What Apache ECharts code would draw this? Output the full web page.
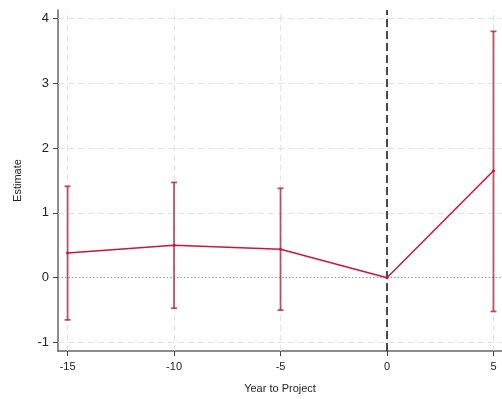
<!DOCTYPE html>
<html><head><meta charset="utf-8">
<script src="https://cdn.jsdelivr.net/npm/echarts@6/dist/echarts.min.js"></script>
<style>html,body{margin:0;padding:0;background:#fff}#c{width:502px;height:399px}</style>
</head><body><div id="c"></div>
<script>
var years = [-15, -10, -5, 0, 5];
var estimates = [0.38, 0.50, 0.44, 0, 1.65];
var ciLower = [-0.65, -0.47, -0.50, null, -0.52];
var ciUpper = [1.41, 1.47, 1.38, null, 3.80];
var xTicks = [-15, -10, -5, 0, 5];
var yTicks = [-1, 0, 1, 2, 3, 4];
var eventYear = 0;

var lineData = years.map(function(x, i){ return [x, estimates[i]]; });
var ciData = [];
years.forEach(function(x, i){ if (ciLower[i] !== null) ciData.push([x, ciLower[i], ciUpper[i]]); });

var font = 'Liberation Sans, Arial, Helvetica, sans-serif';
var chart = echarts.init(document.getElementById('c'), null, {renderer:'canvas'});
chart.setOption({
  animation: false,
  grid: {left: 58, top: 10, right: 0, bottom: 43, containLabel: false},
  xAxis: {
    type: 'value', min: -15.45, max: 5.4,
    name: 'Year to Project', nameLocation: 'middle', nameGap: 32,
    nameTextStyle: {fontFamily: font, fontSize: 11, color: '#222'},
    axisLine: {show: true, onZero: false, lineStyle: {color: '#666', width: 1.5}},
    axisTick: {show: true, customValues: xTicks, length: 5, lineStyle: {color: '#444'}},
    axisLabel: {customValues: xTicks, fontFamily: font, fontSize: 11, color: '#222', margin: 10},
    splitLine: {show: false}
  },
  yAxis: {
    type: 'value', min: -1.13, max: 4.13,
    name: 'Estimate', nameLocation: 'middle', nameGap: 35,
    nameTextStyle: {fontFamily: font, fontSize: 11, color: '#222'},
    axisLine: {show: true, onZero: false, lineStyle: {color: '#666', width: 1.5}},
    axisTick: {show: true, customValues: yTicks, length: 5, lineStyle: {color: '#444'}},
    axisLabel: {customValues: yTicks, fontFamily: font, fontSize: 13, color: '#222', margin: 9},
    splitLine: {show: false}
  },
  series: [
    {
      type: 'line', data: [], silent: true,
      markLine: {
        silent: true, symbol: 'none', label: {show: false},
        lineStyle: {color: '#e3e3e3', type: [6, 4], width: 1},
        data: xTicks.map(function(v){ return {xAxis: v}; })
          .concat(yTicks.filter(function(v){ return v !== 0; }).map(function(v){ return {yAxis: v}; }))
      }
    },
    {
      type: 'line', data: [], silent: true,
      markLine: {
        silent: true, symbol: 'none', label: {show: false},
        data: [
          {yAxis: 0, lineStyle: {color: '#999', type: [1.5, 2], width: 1.2}},
          {xAxis: eventYear, lineStyle: {color: '#111', type: [8, 4], width: 1.5}}
        ]
      }
    },
    {
      type: 'custom', data: ciData, encode: {x: 0, y: [1, 2]}, z: 5,
      renderItem: function(params, api){
        var x = api.value(0);
        var lo = api.coord([x, api.value(1)]);
        var hi = api.coord([x, api.value(2)]);
        var w = 3;
        var st = {stroke: 'rgba(170,40,62,0.8)', lineWidth: 1.8, lineDash: null, fill: null};
        return {type: 'group', children: [
          {type: 'line', shape: {x1: lo[0], y1: lo[1], x2: hi[0], y2: hi[1]}, style: st},
          {type: 'line', shape: {x1: lo[0]-w, y1: lo[1], x2: lo[0]+w, y2: lo[1]}, style: st},
          {type: 'line', shape: {x1: hi[0]-w, y1: hi[1], x2: hi[0]+w, y2: hi[1]}, style: st}
        ]};
      }
    },
    {
      type: 'line', data: lineData, z: 6,
      symbol: 'circle', symbolSize: 3, showSymbol: true,
      lineStyle: {color: '#c8163e', width: 1.5},
      itemStyle: {color: '#c8163e'}
    }
  ]
});
</script></body></html>
